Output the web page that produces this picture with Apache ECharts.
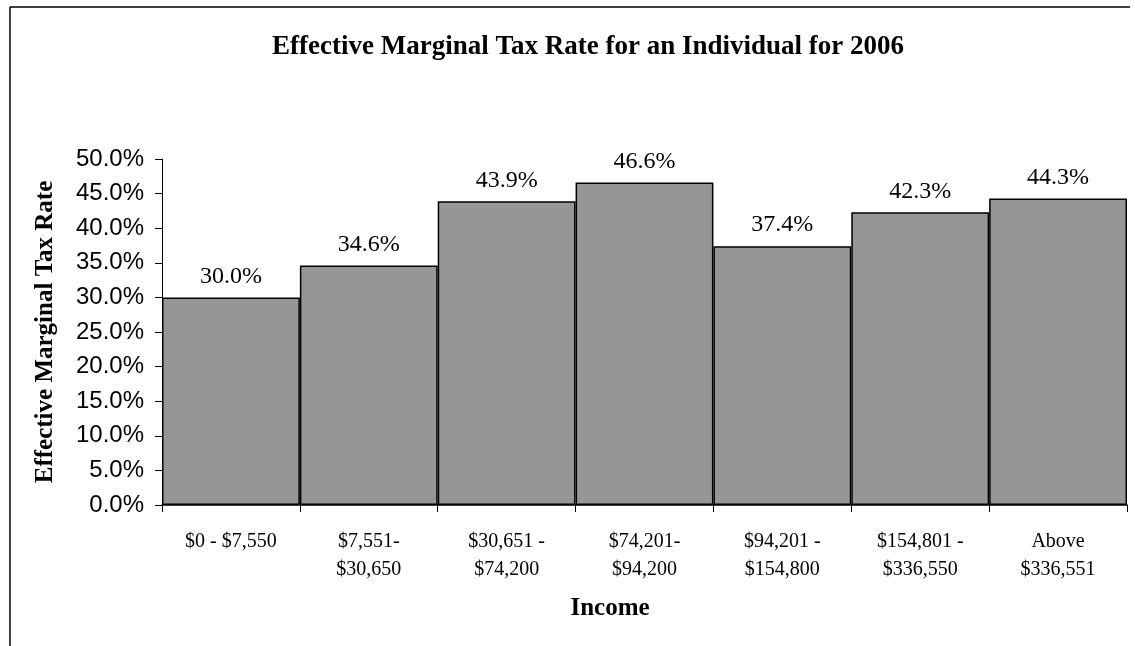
<!DOCTYPE html>
<html>
<head>
<meta charset="utf-8">
<script src="https://cdn.jsdelivr.net/npm/echarts@6/dist/echarts.min.js"></script>
<style>html,body{margin:0;padding:0;background:#fff;}#chart{width:1135px;height:646px;}</style>
</head>
<body>
<div id="chart"></div>
<script>
const categories = ['$0 - $7,550', '$7,551-\n$30,650', '$30,651 -\n$74,200', '$74,201-\n$94,200', '$94,201 -\n$154,800', '$154,801 -\n$336,550', 'Above\n$336,551'];
const rates = [30.0, 34.6, 43.9, 46.6, 37.4, 42.3, 44.3];
const titleText = 'Effective Marginal Tax Rate for an Individual for 2006';
const yAxisTitle = 'Effective Marginal Tax Rate';
const xAxisTitle = 'Income';

const serif = '"Liberation Serif", "Times New Roman", serif';
const sans = '"Liberation Sans", Arial, sans-serif';

const chart = echarts.init(document.getElementById('chart'), null, {renderer: 'canvas'});
chart.setOption({
  animation: false,
  backgroundColor: '#ffffff',
  title: {
    text: titleText,
    left: 583, textAlign: 'center',
    top: 29,
    textStyle: {fontFamily: serif, fontWeight: 'bold', fontSize: 27, color: '#000'}
  },
  grid: {left: 162, right: 8, top: 159, bottom: 141, containLabel: false},
  xAxis: {
    type: 'category',
    data: categories,
    axisLine: {show: true, lineStyle: {color: '#000', width: 1.5}},
    axisTick: {show: true, alignWithLabel: false, length: 7, lineStyle: {color: '#000', width: 1}},
    axisLabel: {fontFamily: serif, fontSize: 20, color: '#000', margin: 23, lineHeight: 28, interval: 0}
  },
  yAxis: {
    type: 'value',
    min: 0, max: 50, interval: 5,
    name: yAxisTitle,
    nameLocation: 'middle',
    nameGap: 104,
    nameTextStyle: {fontFamily: serif, fontWeight: 'bold', fontSize: 25, color: '#000'},
    axisLine: {show: true, lineStyle: {color: '#000', width: 1}},
    axisTick: {show: true, length: 7, lineStyle: {color: '#000', width: 1}},
    splitLine: {show: false},
    axisLabel: {fontFamily: sans, fontSize: 24, color: '#000', margin: 18,
      formatter: v => v.toFixed(1) + '%'}
  },
  graphic: [
    {type: 'line', shape: {x1: 10, y1: 7, x2: 10, y2: 646}, style: {stroke: '#000', lineWidth: 1.5}},
    {type: 'line', shape: {x1: 10, y1: 7, x2: 1130, y2: 7}, style: {stroke: '#000', lineWidth: 1.5}},
    {type: 'text', x: 610, y: 609, style: {text: xAxisTitle, fontFamily: serif, fontWeight: 'bold', fontSize: 25, fill: '#000', textAlign: 'center', textVerticalAlign: 'middle'}}
  ],
  series: [{
    type: 'bar',
    data: rates,
    barCategoryGap: '0%',
    itemStyle: {color: '#969696', borderColor: '#000', borderWidth: 1.5},
    label: {show: true, position: 'top', distance: 9, fontFamily: serif, fontSize: 24, color: '#000',
      formatter: p => p.value.toFixed(1) + '%'}
  }]
});
</script>
</body>
</html>
